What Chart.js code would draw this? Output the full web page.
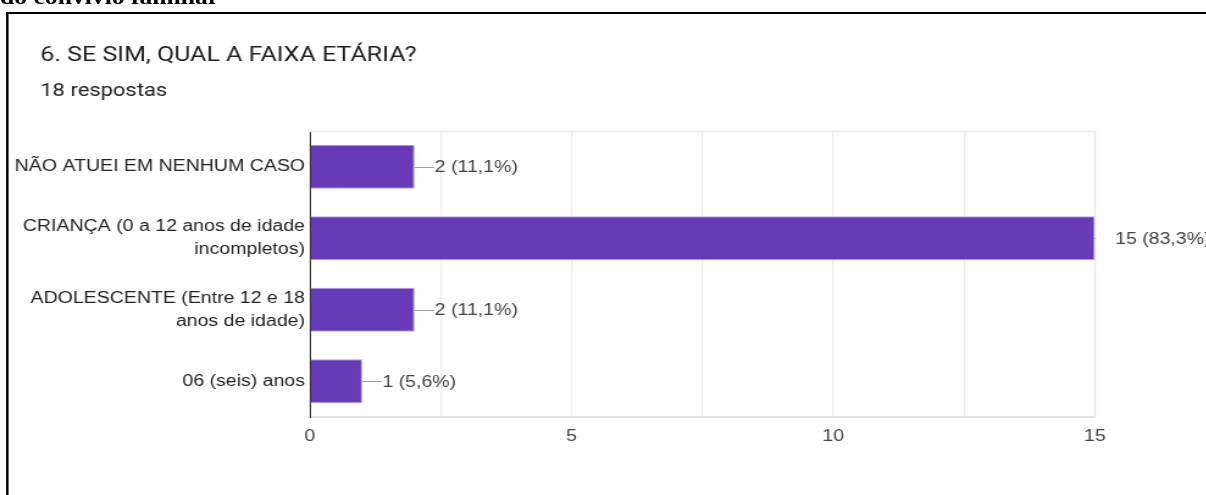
<!DOCTYPE html>
<html>
<head>
<meta charset="utf-8">
<script src="https://cdn.jsdelivr.net/npm/chart.js@4/dist/chart.umd.min.js"></script>
<style>
  html, body { margin: 0; padding: 0; background: #fff; overflow: hidden; width: 1206px; height: 495px; }
  #wrap { position: absolute; left: 0; top: 0; width: 989px; height: 495px; transform: scaleX(1.22); transform-origin: 0 0; }
  #caption { position: absolute; left: 0; top: -13px; font: bold 21px/20px "Liberation Serif", "Times New Roman", serif; color: #000; white-space: nowrap; }
  #frame { position: absolute; left: 5px; top: 12px; right: -20px; bottom: -20px; border-left: 2px solid #000; border-top: 2px solid #000; }
  #c { position: absolute; left: 0; top: 0; }
</style>
</head>
<body>
<div id="wrap">
  <div id="caption">do convívio familiar</div>
  <div id="frame"></div>
  <canvas id="c" width="989" height="495"></canvas>
</div>
<script>
const titleText = '6. SE SIM, QUAL A FAIXA ETÁRIA?';
const subtitleText = '18 respostas';
const categories = [
  'NÃO ATUEI EM NENHUM CASO',
  ['CRIANÇA (0 a 12 anos de idade', 'incompletos)'],
  ['ADOLESCENTE (Entre 12 e 18', 'anos de idade)'],
  '06 (seis) anos'
];
const counts = [2, 15, 2, 1];
const percentLabels = ['11,1%', '83,3%', '11,1%', '5,6%'];
const xTickValues = [0, 5, 10, 15];

const SANS = '"Liberation Sans", Arial, sans-serif';
const TITLE_LEFT = 33;

const titleShift = {
  id: 'titleShift',
  afterLayout(chart) {
    chart.boxes.forEach(b => {
      if (b.options && (b.options.text === titleText || b.options.text === subtitleText)) {
        b.left = TITLE_LEFT;
      }
    });
  }
};

const valueLabels = {
  id: 'valueLabels',
  afterDatasetsDraw(chart) {
    const ctx = chart.ctx;
    const area = chart.chartArea;
    const meta = chart.getDatasetMeta(0);
    meta.data.forEach((bar, i) => {
      const x = bar.x, y = bar.y;
      ctx.save();
      ctx.beginPath();
      ctx.rect(area.left, area.top, area.right - area.left + 1, area.bottom - area.top);
      ctx.clip();
      ctx.strokeStyle = '#9e9e9e';
      ctx.lineWidth = 1;
      ctx.beginPath();
      ctx.moveTo(x, Math.round(y) + 0.5);
      ctx.lineTo(x + 16, Math.round(y) + 0.5);
      ctx.stroke();
      ctx.restore();
      ctx.save();
      ctx.fillStyle = '#424242';
      ctx.font = '16px ' + SANS;
      ctx.textAlign = 'left';
      ctx.textBaseline = 'middle';
      ctx.fillText(counts[i] + ' (' + percentLabels[i] + ')', x + 16.5, y + 1);
      ctx.restore();
    });
  }
};

const areaFrame = {
  id: 'areaFrame',
  beforeDatasetsDraw(chart) {
    const ctx = chart.ctx;
    const a = chart.chartArea;
    ctx.save();
    ctx.strokeStyle = '#ebebeb';
    ctx.lineWidth = 1.5;
    ctx.beginPath();
    ctx.moveTo(a.left, a.top + 0.5);
    ctx.lineTo(a.right, a.top + 0.5);
    ctx.lineTo(a.right, a.bottom);
    ctx.stroke();
    ctx.restore();
  }
};

new Chart(document.getElementById('c'), {
  type: 'bar',
  data: {
    labels: categories,
    datasets: [{
      data: counts,
      backgroundColor: '#673ab7',
      borderColor: '#b39ddb',
      borderWidth: 1,
      barPercentage: 0.613,
      categoryPercentage: 1.0
    }]
  },
  options: {
    indexAxis: 'y',
    responsive: false,
    devicePixelRatio: 1,
    animation: false,
    layout: { padding: { top: 12, left: 0, right: 91.5, bottom: 0 } },
    plugins: {
      legend: { display: false },
      tooltip: { enabled: false },
      title: {
        display: true,
        text: titleText,
        align: 'start',
        color: '#202124',
        font: { family: 'Roboto, "Noto Sans", sans-serif', size: 20.5, weight: 'normal', lineHeight: 1.2 },
        padding: { top: 32, bottom: 12 }
      },
      subtitle: {
        display: true,
        text: subtitleText,
        align: 'start',
        color: '#202124',
        font: { family: 'Roboto, "Noto Sans", sans-serif', size: 18, weight: 'normal', lineHeight: 1.2 },
        padding: { top: 0, bottom: 28.8 }
      }
    },
    scales: {
      x: {
        type: 'linear',
        min: 0,
        max: 15,
        afterFit(scale) { scale.height = 78; },
        ticks: {
          stepSize: 2.5,
          autoSkip: false,
          maxRotation: 0,
          padding: 10,
          color: '#444',
          font: { family: SANS, size: 16 },
          callback: (v) => xTickValues.includes(v) ? String(v) : ''
        },
        grid: { color: '#ebebeb', lineWidth: 1.2, drawTicks: false },
        border: { display: true, color: '#e4e4e4', width: 2 }
      },
      y: {
        type: 'category',
        afterFit(scale) { scale.width = 254; },
        ticks: {
          padding: 4,
          color: '#222',
          autoSkip: false,
          font: { family: SANS, size: 16, lineHeight: 1.45 }
        },
        grid: { display: false, drawTicks: false },
        border: { display: true, color: '#333', width: 1 }
      }
    }
  },
  plugins: [titleShift, areaFrame, valueLabels]
});
</script>
</body>
</html>
